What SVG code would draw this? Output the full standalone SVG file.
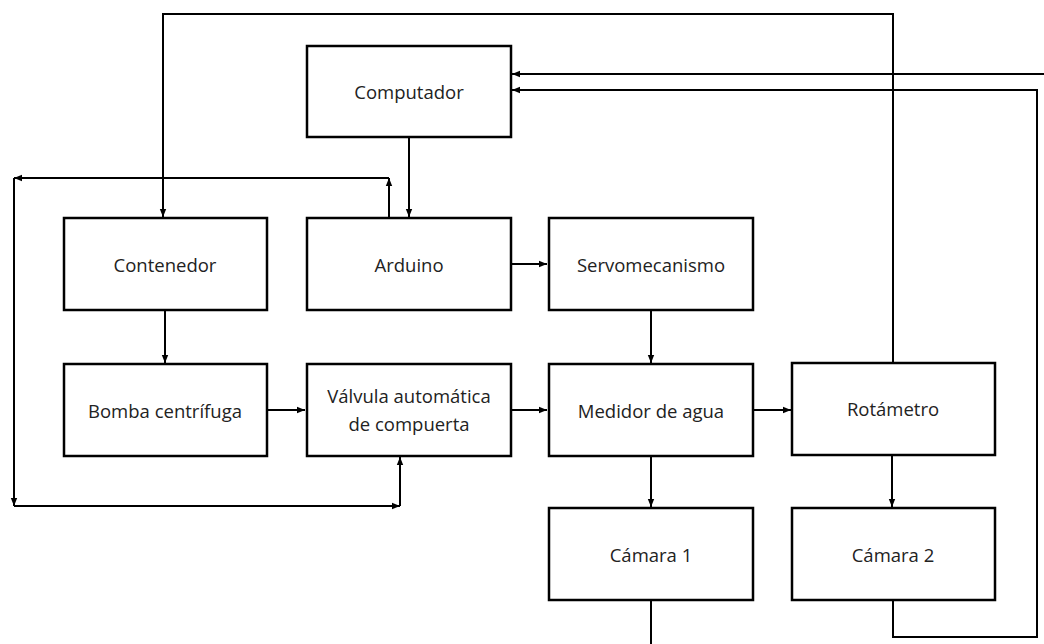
<svg xmlns="http://www.w3.org/2000/svg" width="1044" height="644" viewBox="0 0 1044 644">
<style>
.box{fill:#fff;stroke:#000;stroke-width:2.5}
.lbl{font-family:"Open Sans","Liberation Sans",sans-serif;font-size:18.5px;fill:#222;text-anchor:middle;dominant-baseline:central}
.ln{fill:none;stroke:#000;stroke-width:2}
.ar{marker-end:url(#ah)}
</style>
<defs>
<marker id="ah" markerUnits="userSpaceOnUse" markerWidth="8" markerHeight="8" viewBox="0 0 8 8" refX="8" refY="4" orient="auto">
<path d="M0,0.8 L8,4 L0,7.2 Z" fill="#000"/>
</marker>
</defs>
<rect width="1044" height="644" fill="#fff"/>
<g id="connectors">
<path class="ln ar" d="M893,362 V14 H163 V217"/>
<path class="ln ar" d="M1044,74 H512"/>
<path class="ln ar" d="M893,600 V637 H1037 V90 H512"/>
<path class="ln" d="M651,600 V644"/>
<path class="ln ar" d="M409,137 V217"/>
<path class="ln ar" d="M389,218 V178"/>
<path class="ln ar" d="M389,178 H14"/>
<path class="ln ar" d="M14,178 V506"/>
<path class="ln ar" d="M14,506 H400"/>
<path class="ln ar" d="M400,506 V457"/>
<path class="ln ar" d="M165,310 V363"/>
<path class="ln ar" d="M267,410 H305"/>
<path class="ln ar" d="M511,264 H547"/>
<path class="ln ar" d="M651,310 V363"/>
<path class="ln ar" d="M511,410 H547"/>
<path class="ln ar" d="M753,410 H791"/>
<path class="ln ar" d="M651,456 V507"/>
<path class="ln ar" d="M892,455 V507"/>
</g>
<g id="computador"><rect class="box" x="307" y="46" width="204" height="91"/><text class="lbl" x="409" y="91">Computador</text></g>
<g id="contenedor"><rect class="box" x="64" y="218" width="203" height="92"/><text class="lbl" x="165" y="264">Contenedor</text></g>
<g id="arduino"><rect class="box" x="307" y="218" width="204" height="92"/><text class="lbl" x="409" y="264">Arduino</text></g>
<g id="servomecanismo"><rect class="box" x="549" y="218" width="204" height="92"/><text class="lbl" x="651" y="264">Servomecanismo</text></g>
<g id="bomba"><rect class="box" x="64" y="364" width="203" height="92"/><text class="lbl" x="165" y="410">Bomba centrífuga</text></g>
<g id="valvula"><rect class="box" x="307" y="364" width="204" height="92"/><text class="lbl" x="409" y="395">Válvula automática</text><text class="lbl" x="409" y="423">de compuerta</text></g>
<g id="medidor"><rect class="box" x="549" y="364" width="204" height="92"/><text class="lbl" x="651" y="410">Medidor de agua</text></g>
<g id="rotametro"><rect class="box" x="792" y="363" width="203" height="92"/><text class="lbl" x="893" y="408">Rotámetro</text></g>
<g id="camara1"><rect class="box" x="549" y="508" width="204" height="92"/><text class="lbl" x="651" y="554">Cámara 1</text></g>
<g id="camara2"><rect class="box" x="792" y="508" width="203" height="92"/><text class="lbl" x="893" y="554">Cámara 2</text></g>
</svg>
